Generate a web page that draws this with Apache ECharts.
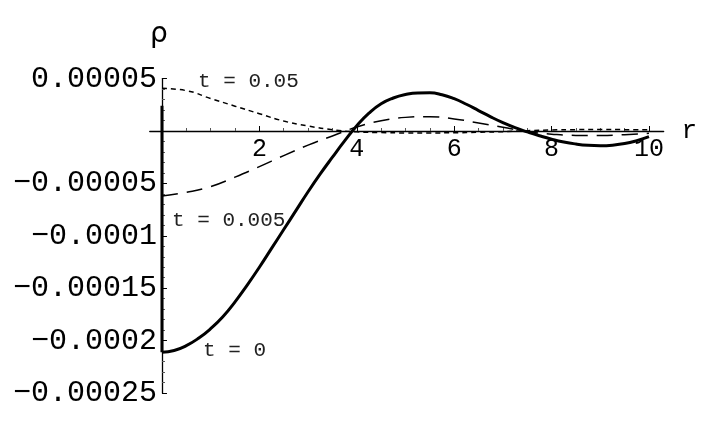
<!DOCTYPE html>
<html>
<head>
<meta charset="utf-8">
<script src="https://cdn.jsdelivr.net/npm/echarts@6/dist/echarts.min.js"></script>
<style>
  html, body { margin: 0; padding: 0; background: #fff; }
  #chart { width: 705px; height: 435px; }
</style>
</head>
<body>
<div id="chart"></div>
<script>
// density rho(r) at three times
// t = 0 read every 0.25 in r, the two later times every 0.5
var rFine = [0, 0.25, 0.5, 0.75, 1, 1.25, 1.5, 1.75, 2, 2.25, 2.5, 2.75, 3, 3.25, 3.5, 3.75, 4, 4.25, 4.5, 4.75,
             5, 5.25, 5.5, 5.75, 6, 6.25, 6.5, 6.75, 7, 7.25, 7.5, 7.75, 8, 8.25, 8.5, 8.75, 9, 9.25, 9.5, 9.75, 10];
var rCoarse = [0, 0.5, 1, 1.5, 2, 2.5, 3, 3.5, 4, 4.5, 5, 5.5, 6, 6.5, 7, 7.5, 8, 8.5, 9, 9.5, 10];
var t0Spike = [[0, 2.4e-5], [0, -2.11e-4]];
var t0 = [-2.11e-4, -2.094e-4, -2.048e-4, -1.978e-4, -1.886e-4, -1.772e-4, -1.63e-4, -1.47e-4, -1.30e-4, -1.12e-4,
          -9.4e-5, -7.6e-5, -5.8e-5, -4.1e-5, -2.5e-5, -9.5e-6, 5e-6, 1.7e-5, 2.6e-5, 3.15e-5,
          3.48e-5, 3.63e-5, 3.64e-5, 3.46e-5, 3.08e-5, 2.55e-5, 1.95e-5, 1.35e-5, 8e-6, 3.2e-6,
          -8e-7, -4.5e-6, -7.8e-6, -1.05e-5, -1.24e-5, -1.36e-5, -1.4e-5, -1.35e-5, -1.2e-5, -9.2e-6, -5.4e-6];
var t005 = [-6.2e-5, -5.85e-5, -5.3e-5, -4.4e-5, -3.4e-5, -2.35e-5, -1.35e-5, -4.7e-6, 3.8e-6, 9.7e-6,
            1.3e-5, 1.37e-5, 1.15e-5, 7.7e-6, 3.5e-6, -5e-7, -3e-6, -4.2e-6, -4.3e-6, -3.5e-6, -2.2e-6];
var t05 = [4.07e-5, 3.85e-5, 3.1e-5, 2.37e-5, 1.65e-5, 9.5e-6, 4.8e-6, 1.2e-6, -8e-7, -1.5e-6,
           -1.8e-6, -1.8e-6, -1.7e-6, -1.2e-6, -6e-7, 3e-7, 1e-6, 1.3e-6, 1.4e-6, 1.3e-6, 1.2e-6];

var xTickValues = [2, 4, 6, 8, 10];
var xTickLabels = ['2', '4', '6', '8', '10'];
var yTickValues = [5e-5, -5e-5, -1e-4, -1.5e-4, -2e-4, -2.5e-4];
var yTickLabels = ['0.00005', '\u22120.00005', '\u22120.0001', '\u22120.00015', '\u22120.0002', '\u22120.00025'];

// minor ticks: every 0.5 on r, every 0.00001 on rho
var xMinor = [];
for (var i = 1; i <= 20; i++) {
    if (i % 4 !== 0) xMinor.push(i * 0.5);
}
var yMinor = [];
for (var j = -25; j <= 5; j++) {
    if (j % 5 !== 0) yMinor.push(j * 1e-5);
}

function pairs(rs, ys) {
    return rs.map(function (r, k) { return [r, ys[k]]; });
}

var mono = '"Liberation Mono", "DejaVu Sans Mono", monospace';

function pick(values, labels) {
    return function (v) {
        for (var k = 0; k < values.length; k++) {
            if (Math.abs(values[k] - v) < Math.abs(values[k]) * 1e-6 + 1e-12) return labels[k];
        }
        return '';
    };
}

// grid geometry: axes cross at r = 0, rho = 0 inside the grid
var gridLeft = 149.8, gridRight = 41.4, gridTop = 78.6, gridBottom = 42;
var xMin = -0.25, xMax = 10.3, yMin = -2.5e-4, yMax = 5e-5;
var gridW = 705 - gridLeft - gridRight, gridH = 435 - gridTop - gridBottom;
var xAxisOffset = -gridH * (0 - yMin) / (yMax - yMin);
var yAxisOffset = -gridW * (0 - xMin) / (xMax - xMin);

var chart = echarts.init(document.getElementById('chart'));
chart.setOption({
    backgroundColor: '#ffffff',
    animation: false,
    grid: {
        left: gridLeft,
        right: gridRight,
        top: gridTop,
        bottom: gridBottom,
        containLabel: false,
        outerBoundsMode: 'none'
    },
    xAxis: [{
        type: 'value',
        position: 'bottom',
        offset: xAxisOffset,
        min: xMin,
        max: xMax,
        name: 'r',
        nameLocation: 'end',
        nameGap: 18,
        nameTextStyle: {
            color: '#000',
            fontFamily: mono,
            fontSize: 26,
            verticalAlign: 'middle',
            padding: [0, 0, 4, 0]
        },
        splitLine: { show: false },
        axisLine: {
            onZero: false,
            lineStyle: { color: '#000', width: 1.4 }
        },
        axisTick: {
            show: true,
            inside: true,
            length: 5,
            customValues: xTickValues,
            lineStyle: { color: '#000', width: 1 }
        },
        axisLabel: {
            customValues: xTickValues,
            formatter: pick(xTickValues, xTickLabels),
            color: '#000',
            fontFamily: mono,
            fontSize: 25,
            margin: 6
        }
    }, {
        type: 'value',
        position: 'bottom',
        offset: xAxisOffset,
        min: xMin,
        max: xMax,
        splitLine: { show: false },
        axisLine: { show: false, onZero: false },
        axisTick: {
            show: true,
            inside: true,
            length: 3,
            customValues: xMinor,
            lineStyle: { color: '#555', width: 1 }
        },
        axisLabel: { show: false }
    }],
    yAxis: [{
        type: 'value',
        position: 'left',
        offset: yAxisOffset,
        min: yMin,
        max: yMax,
        name: '\u03c1',
        nameLocation: 'end',
        nameGap: 30,
        nameTextStyle: {
            color: '#000',
            fontFamily: '"DejaVu Sans", sans-serif',
            fontSize: 28,
            align: 'center',
            padding: [0, 6, 0, 0]
        },
        splitLine: { show: false },
        axisLine: {
            onZero: false,
            lineStyle: { color: '#000', width: 1.3 }
        },
        axisTick: {
            show: true,
            inside: true,
            length: 5,
            customValues: yTickValues,
            lineStyle: { color: '#000', width: 1 }
        },
        axisLabel: {
            customValues: yTickValues,
            formatter: pick(yTickValues, yTickLabels),
            color: '#000',
            fontFamily: mono,
            fontSize: 30,
            margin: 5
        }
    }, {
        type: 'value',
        position: 'left',
        offset: yAxisOffset,
        min: yMin,
        max: yMax,
        splitLine: { show: false },
        axisLine: { show: false, onZero: false },
        axisTick: {
            show: true,
            inside: true,
            length: 3,
            customValues: yMinor,
            lineStyle: { color: '#555', width: 1 }
        },
        axisLabel: { show: false }
    }],
    series: [{
        name: 't = 0 spike',
        type: 'line',
        data: t0Spike,
        symbol: 'none',
        lineStyle: { color: '#000', width: 3 }
    }, {
        name: 't = 0',
        type: 'line',
        data: pairs(rFine, t0),
        smooth: 0.5,
        symbol: 'none',
        lineStyle: { color: '#000', width: 3 }
    }, {
        name: 't = 0.005',
        type: 'line',
        data: pairs(rCoarse, t005),
        smooth: 0.5,
        symbol: 'none',
        lineStyle: { color: '#000', width: 1.5, type: [16, 9] }
    }, {
        name: 't = 0.05',
        type: 'line',
        data: pairs(rCoarse, t05),
        smooth: 0.5,
        symbol: 'none',
        lineStyle: { color: '#000', width: 1.5, type: [5, 4] }
    }],
    graphic: [{
        type: 'text',
        style: { x: 198, y: 81, text: 't = 0.05', font: '21px ' + mono, fill: '#222', textVerticalAlign: 'middle' }
    }, {
        type: 'text',
        style: { x: 172, y: 220, text: 't = 0.005', font: '21px ' + mono, fill: '#222', textVerticalAlign: 'middle' }
    }, {
        type: 'text',
        style: { x: 203, y: 350, text: 't = 0', font: '21px ' + mono, fill: '#222', textVerticalAlign: 'middle' }
    }]
});
</script>
</body>
</html>
